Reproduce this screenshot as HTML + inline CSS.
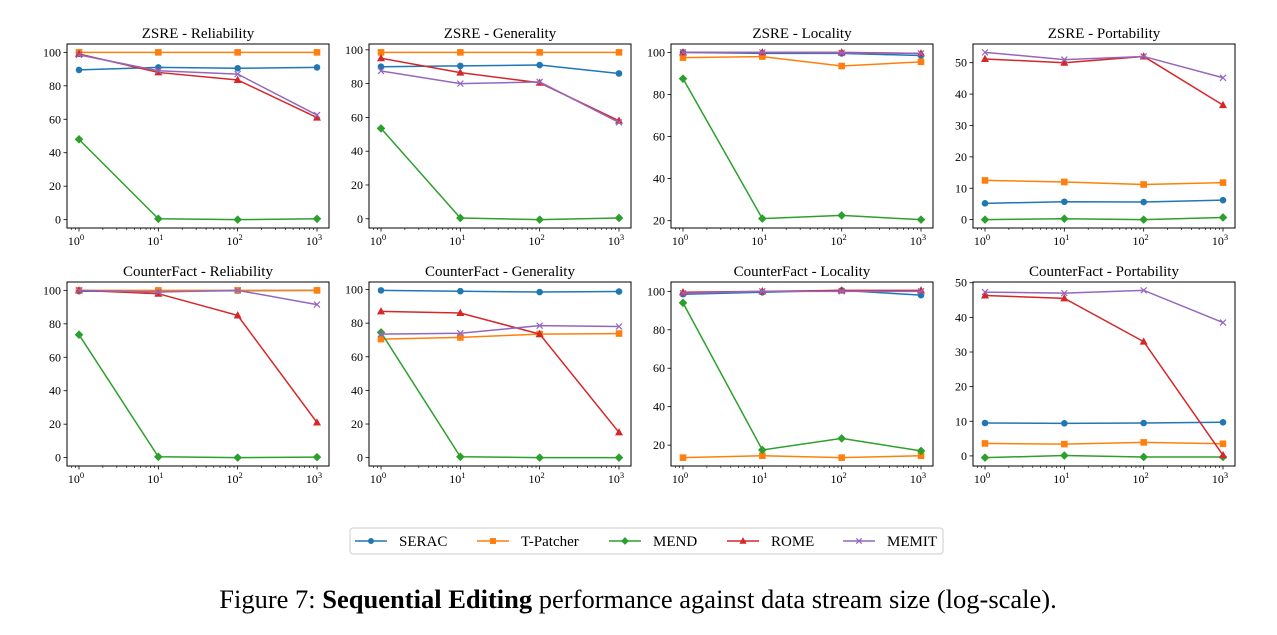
<!DOCTYPE html>
<html><head><meta charset="utf-8"><style>
body{margin:0;background:#fff;width:1277px;height:630px;overflow:hidden;font-family:"Liberation Serif",serif}
svg text{font-family:"Liberation Serif",serif}
</style></head><body>
<svg id="fig" width="1277" height="630"></svg>
<script>
const xs=[1,10,100,1000];
const titles=["ZSRE - Reliability","ZSRE - Generality","ZSRE - Locality","ZSRE - Portability","CounterFact - Reliability","CounterFact - Generality","CounterFact - Locality","CounterFact - Portability"];
const serac=[[89.5,91,90.5,91],[90,90.5,91,86],[100,99.5,99.5,98.5],[5.2,5.7,5.6,6.2],[99.5,99.5,99.8,100],[99.5,99,98.5,98.8],[98.5,99.5,100.5,98],[9.5,9.4,9.5,9.7]];
const tpatcher=[[100,100,100,100],[98.5,98.5,98.5,98.5],[97.5,98,93.5,95.5],[12.5,12,11.2,11.8],[100,100,100,100],[70.5,71.5,73.5,73.8],[13.5,14.5,13.5,14.5],[3.6,3.4,3.9,3.5]];
const mend=[[48,0.5,0,0.5],[53.5,0.5,-0.5,0.5],[87.5,21,22.5,20.5],[0,0.3,0,0.7],[73.5,0.5,0,0.3],[74.5,0.5,0,0],[94,17.5,23.5,17],[-0.5,0.1,-0.3,-0.3]];
const rome=[[99,88,83.5,61],[95,86.5,80.5,58],[100,100,100,99.5],[51.2,50,52,36.5],[100,98,85,21],[87,86,73.5,15],[99.5,100,100.5,100.5],[46.3,45.5,33,0.2]];
const memit=[[98.5,89,87,62.5],[87.5,80,81,57],[100,100,99.8,99.5],[53.3,51,52,45.2],[100,99,100,91.5],[73.5,74,78.5,78],[99,100,100,100],[47.3,47,47.8,38.5]];
const yticks=[[0,20,40,60,80,100],[0,20,40,60,80,100],[20,40,60,80,100],[0,10,20,30,40,50],[0,20,40,60,80,100],[0,20,40,60,80,100],[20,40,60,80,100],[0,10,20,30,40,50]];
const seriesNames=["SERAC","T-Patcher","MEND","ROME","MEMIT"];
const colors=["#1f77b4","#ff7f0e","#2ca02c","#d62728","#9467bd"];
const markers=["circle","square","diamond","triangle","x"];

const NS="http://www.w3.org/2000/svg";
const svg=document.getElementById('fig');
function el(t,a,p){const e=document.createElementNS(NS,t);for(const k in a)e.setAttribute(k,a[k]);(p||svg).appendChild(e);return e;}
function marker(g,type,x,y,c,s){
  let m;
  if(type=="circle")m=el('circle',{cx:x,cy:y,r:3.3*s,fill:c},g);
  else if(type=="square")m=el('rect',{x:x-3.3*s,y:y-3.3*s,width:6.6*s,height:6.6*s,fill:c},g);
  else if(type=="diamond")m=el('polygon',{points:`${x},${y-4.3*s} ${x+4.3*s},${y} ${x},${y+4.3*s} ${x-4.3*s},${y}`,fill:c},g);
  else if(type=="triangle")m=el('polygon',{points:`${x},${y-4.3*s} ${x+4*s},${y+3*s} ${x-4*s},${y+3*s}`,fill:c},g);
  else{m=el('path',{d:`M${x-3*s},${y-3*s}L${x+3*s},${y+3*s}M${x-3*s},${y+3*s}L${x+3*s},${y-3*s}`,stroke:c,'stroke-width':1.2,fill:'none'},g);}
  return m;
}
const lefts=[67,369,671,973],tops=[44,282],W=262,H=184;
const all=[serac,tpatcher,mend,rome,memit];
for(let p=0;p<8;p++){
  const L=lefts[p%4],T=tops[Math.floor(p/4)];
  const g=el('g',{});
  
  
  let vals=[];all.forEach(s=>vals.push(...s[p]));
  const mn=Math.min(...vals),mx=Math.max(...vals),r=mx-mn;
  const y0=mn-0.05*r,y1=mx+0.05*r;
  const X=v=>L+12+(Math.log10(v)/3)*(W-24);
  const Y=v=>T+H-(v-y0)/(y1-y0)*H;
  const t=el('text',{x:L+W/2,y:T-6,'text-anchor':'middle','font-size':15,fill:'#000'},g);t.textContent=titles[p];
  
  
  for(let d=0;d<=3;d++){
    const x=X(Math.pow(10,d));
    el('line',{x1:x,x2:x,y1:T+H,y2:T+H+3.5,stroke:'#000','stroke-width':0.8},g);
    const tx=el('text',{x:x-3,y:T+H+17,'text-anchor':'middle','font-size':12},g);
    tx.innerHTML='10<tspan dy="-5" font-size="8.5">'+d+'</tspan>';
    
    
  }
  for(let d=-1;d<=3;d++)for(let k=2;k<=9;k++){const v=k*Math.pow(10,d);const x=X(v);if(x<L||x>L+W)continue;
    el('line',{x1:x,x2:x,y1:T+H,y2:T+H+2,stroke:'#000','stroke-width':0.6},g);}
  yticks[p].forEach(v=>{const y=Y(v);
    el('line',{x1:L,x2:L-3.5,y1:y,y2:y,stroke:'#000','stroke-width':0.8},g);
    const ty=el('text',{x:L-6,y:y+4,'text-anchor':'end','font-size':12},g);ty.textContent=v;
    
    
  });
  all.forEach((s,i)=>{
    const pts=s[p].map((v,j)=>X(xs[j])+','+Y(v)).join(' ');
    const pl=el('polyline',{points:pts,fill:'none',stroke:colors[i],'stroke-width':1.5},g);
    
    
    s[p].forEach((v,j)=>{const m=marker(g,markers[i],X(xs[j]),Y(v),colors[i],1);
      
      });
  });
  el('rect',{x:L,y:T,width:W,height:H,fill:'none',stroke:'#000','stroke-width':1},g);
}
const lg=el('g',{});


el('rect',{x:350,y:528,width:593,height:26,rx:3,fill:'#fff',stroke:'#ccc','stroke-width':1},lg);
const lx=[355,477,609,727,843];
seriesNames.forEach((n,i)=>{
  const e=el('g',{},lg);
  
  
  el('line',{x1:lx[i],x2:lx[i]+32,y1:541,y2:541,stroke:colors[i],'stroke-width':1.5},e);
  marker(e,markers[i],lx[i]+16,541,colors[i],0.9);
  const t=el('text',{x:lx[i]+44,y:546,'font-size':15},e);t.textContent=n;
});
const cap=el('text',{x:638,y:608,'text-anchor':'middle','font-size':26.5});
cap.innerHTML='Figure 7: <tspan font-weight="bold">Sequential Editing</tspan> performance against data stream size (log-scale).';


</script>
</body></html>
